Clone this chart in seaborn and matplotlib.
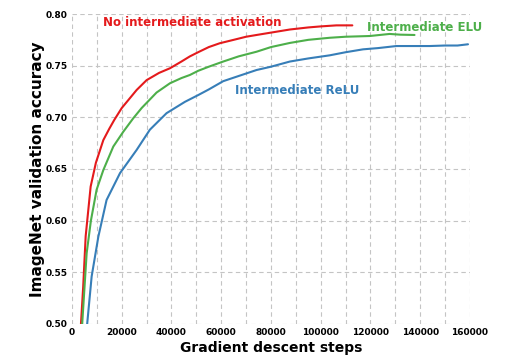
import pandas as pd
import numpy as np
import matplotlib
matplotlib.use("Agg")
import matplotlib.pyplot as plt
import seaborn as sns
from matplotlib.ticker import MultipleLocator, FormatStrFormatter

# Okunan veri (resimden tahmin)
none_steps = [3600, 4500, 5500, 7500, 9600, 12600, 15000, 17000, 20000, 26000, 30000,
              35000, 39400, 44000, 47400, 50700, 55000, 59400, 65000, 70000, 74200,
              80000, 87600, 95000, 100000, 106300, 112700]
none_acc = [0.500, 0.536, 0.585, 0.633, 0.656, 0.678, 0.689, 0.6975, 0.709, 0.7265, 0.736,
            0.743, 0.7475, 0.754, 0.759, 0.763, 0.768, 0.7717, 0.775, 0.778, 0.7797,
            0.782, 0.785, 0.787, 0.788, 0.789, 0.789]

elu_steps = [4100, 5900, 7600, 9900, 12600, 16600, 20600, 24600, 28000, 34000, 39400,
             44000, 47400, 50700, 55000, 60800, 67000, 74200, 80000, 87600, 95000,
             103600, 110000, 119700, 127700, 132000, 137700]
elu_acc = [0.500, 0.5686, 0.600, 0.630, 0.649, 0.6717, 0.686, 0.699, 0.709, 0.724, 0.733,
           0.738, 0.741, 0.745, 0.749, 0.754, 0.759, 0.7635, 0.768, 0.772, 0.775,
           0.777, 0.778, 0.7787, 0.7807, 0.780, 0.7797]

relu_steps = [6100, 7900, 10600, 13900, 19300, 26000, 31300, 38000, 45400, 50700, 55000,
              60800, 67000, 74200, 80000, 87600, 95000, 103600, 110000, 117000, 123000,
              130400, 137000, 143800, 150000, 155000, 159200]
relu_acc = [0.500, 0.546, 0.5846, 0.620, 0.646, 0.6685, 0.688, 0.704, 0.715, 0.7215, 0.727,
            0.735, 0.740, 0.7458, 0.749, 0.754, 0.757, 0.760, 0.763, 0.7658, 0.767,
            0.769, 0.769, 0.769, 0.7695, 0.7695, 0.7707]

labels = ["No intermediate activation", "Intermediate ELU", "Intermediate ReLU"]
colors = ["#e41a1c", "#4daf4a", "#377eb8"]

df = pd.concat([
    pd.DataFrame({"step": none_steps, "acc": none_acc, "model": labels[0]}),
    pd.DataFrame({"step": elu_steps, "acc": elu_acc, "model": labels[1]}),
    pd.DataFrame({"step": relu_steps, "acc": relu_acc, "model": labels[2]}),
])

sns.set_style("white")
plt.rcParams['font.family'] = ['DejaVu Sans']

fig = plt.figure(figsize=(5.07, 3.59), dpi=100)
ax = fig.add_axes([0.142, 0.0975, 0.785, 0.8635])

sns.lineplot(data=df, x="step", y="acc", hue="model", palette=colors,
             linewidth=1.5, legend=False, ax=ax, sort=False)

ax.xaxis.set_major_locator(MultipleLocator(20000))
ax.xaxis.set_minor_locator(MultipleLocator(10000))
ax.yaxis.set_major_locator(MultipleLocator(0.05))
ax.yaxis.set_major_formatter(FormatStrFormatter("%.2f"))
ax.set_xlim(0, 160000)
ax.set_ylim(0.50, 0.80)

grid_kw = dict(linestyle=(0, (4, 3)), color="#c4c4c4", linewidth=0.8)
ax.grid(True, which="both", axis="x", **grid_kw)
ax.grid(True, which="major", axis="y", **grid_kw)
ax.set_axisbelow(True)
sns.despine(ax=ax, left=True, bottom=True)

ax.tick_params(axis="both", which="both", length=0, labelsize=6.5, pad=3,
               labelcolor="black")
for t in ax.get_xticklabels() + ax.get_yticklabels():
    t.set_fontweight("bold")

ax.set_xlabel("Gradient descent steps", fontsize=10, fontweight="bold",
              color="black", labelpad=3)
ax.set_ylabel("ImageNet validation accuracy", fontsize=11, fontweight="bold",
              color="black", labelpad=0.5)

ax.text(48200, 0.792, labels[0], color=colors[0], fontsize=8.5, fontweight="bold",
        ha="center", va="center")
ax.text(141800, 0.7874, labels[1], color=colors[1], fontsize=8.5, fontweight="bold",
        ha="center", va="center")
ax.text(90400, 0.7258, labels[2], color=colors[2], fontsize=8.5, fontweight="bold",
        ha="center", va="center")

fig.savefig("out.png", dpi=100)
